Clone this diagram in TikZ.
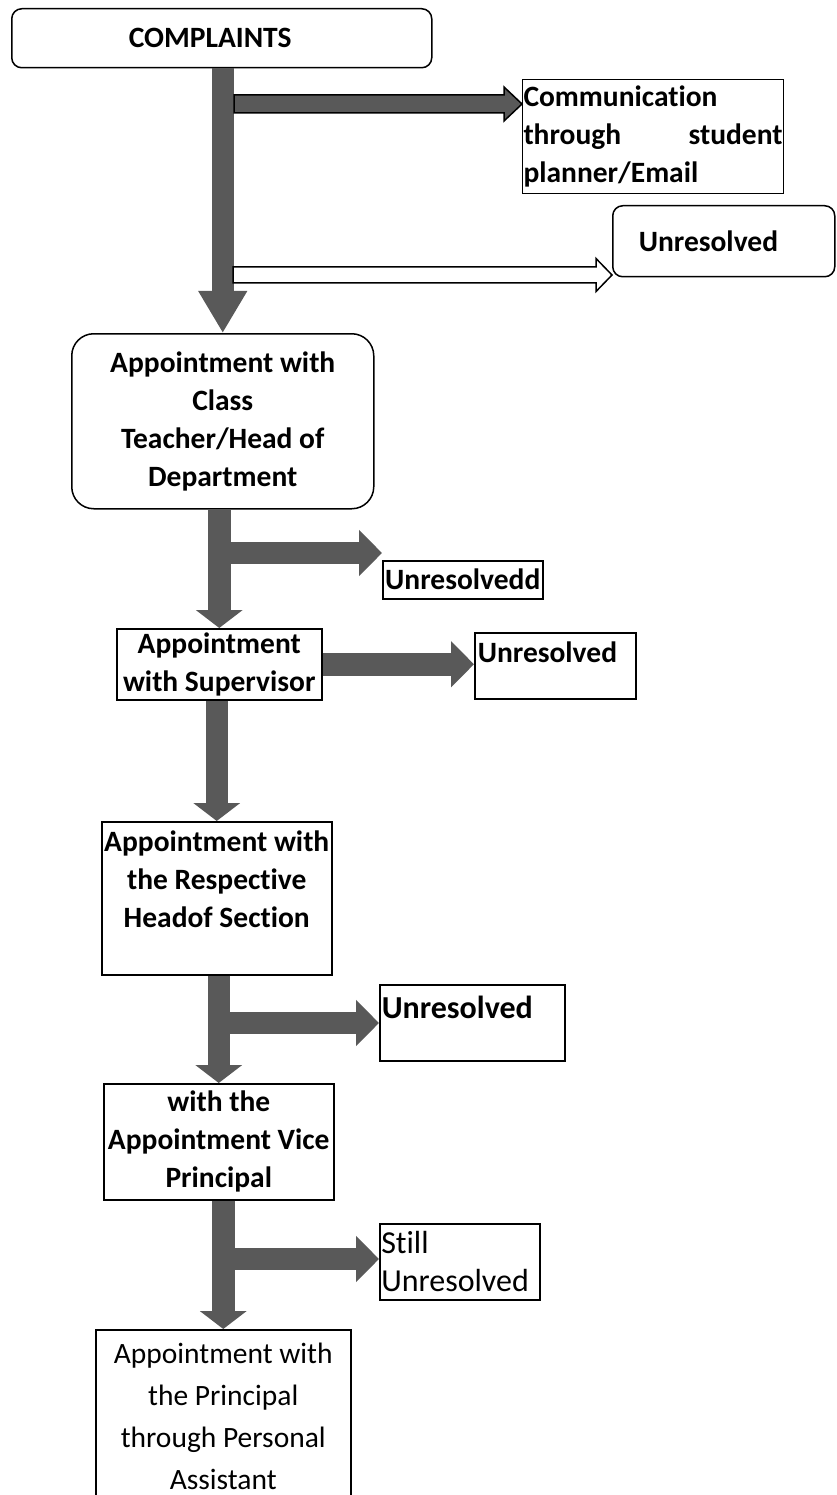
\documentclass[tikz,border=0pt]{standalone}
\usepackage{fontspec}
\setmainfont{Carlito}[Ligatures={NoCommon,NoContextual}]
\usetikzlibrary{arrows.meta,calc}
\definecolor{arrowgray}{RGB}{89,89,89}
\tikzset{
  box/.style={draw, line width=1.5pt, inner sep=0pt, align=center,
              font=\bfseries\fontsize{29.5}{38}\selectfont},
  rbox/.style={box, rounded corners=10pt},
  plainbox/.style={box, font=\fontsize{29.5}{42}\selectfont},
  spine/.style={draw=arrowgray, line width=22.5pt, -{Triangle[length=18pt,width=46pt]}},
  branch/.style={draw=arrowgray, line width=22.5pt, -{Triangle[length=23pt,width=45pt]}}
}

\begin{document}
\begin{tikzpicture}[x=1pt,y=-1pt]
    \useasboundingbox (0,0) rectangle (836,1495);

    \node[rbox, anchor=north west, minimum width=420pt, minimum height=59pt,
          text width=186pt, align=left] (complaints) at (11,8) {COMPLAINTS};
    \node[box, anchor=north west, minimum width=261pt, minimum height=114pt,
          text width=259pt, align=left, line width=1pt] (comm) at (522,79)
          {Communication\\through\hfill student\\planner/Email};
    \node[rbox, anchor=north west, minimum width=222pt, minimum height=71pt,
          text width=170pt, align=left] (unres1) at (612,205) {Unresolved};

    \node[rbox, rounded corners=22pt, anchor=north west, minimum width=302pt,
          minimum height=175pt] (teach) at (71,333)
          {Appointment with\\Class\\Teacher/Head of\\Department};
    \node[box, anchor=north west, minimum width=160pt, minimum height=38pt]
          (unres2) at (382,560) {Unresolvedd};

    \node[box, anchor=north west, minimum width=205pt, minimum height=71pt]
          (super) at (116,628) {Appointment\\with Supervisor};
    \node[box, anchor=north west, minimum width=161pt, text width=155pt, align=left,
          text height=30pt, text depth=36pt] (unres3) at (474,632) {Unresolved};

    \node[box, anchor=north west, minimum width=230pt, minimum height=153pt]
          (section) at (101,821) {Appointment with\\the Respective\\Headof Section\\\mbox{}};
    \node[box, anchor=north west, minimum width=185pt, text width=181pt, align=left,
          text height=34pt, text depth=42pt, font=\bfseries\fontsize{32}{38}\selectfont]
          (unres4) at (379,984) {Unresolved};

    \node[box, anchor=north west, minimum width=230pt, minimum height=116pt]
          (vice) at (103,1083) {with the\\Appointment Vice\\Principal};
    \node[plainbox, anchor=north west, minimum width=160pt, minimum height=76pt,
          text width=157pt, align=left, font=\fontsize{32}{38}\selectfont]
          (still) at (379,1223) {Still\\Unresolved};

    \node[plainbox, anchor=north west, minimum width=255pt, minimum height=173pt]
          (princ) at (95,1329) {Appointment with\\the Principal\\through Personal\\Assistant};

    % the main line down
    \draw[spine, -{Triangle[length=42pt,width=46pt]}] (teach.north |- complaints.south) -- (teach.north);
    \draw[spine] (super.north |- teach.south) -- (super.north);
    \draw[spine] (section.north |- super.south) -- (section.north);
    \draw[spine] (vice.north |- section.south) -- (vice.north);
    \draw[spine] (princ.north |- vice.south) -- (princ.north);

    % outlined arrows off the first line
    \coordinate (fork0) at (234,104);
    \coordinate (tip0) at (fork0 -| comm.west);
    \filldraw[fill=arrowgray, line width=1.5pt]
        ($(fork0)+(0,-9)$) -- ($(tip0)+(-18,-9)$) -- ($(tip0)+(-18,-17)$) -- (tip0)
        -- ($(tip0)+(-18,17)$) -- ($(tip0)+(-18,9)$) -- ($(fork0)+(0,9)$) -- cycle;
    \coordinate (fork1) at (233,275);
    \coordinate (tip1) at (fork1 -| unres1.west);
    \filldraw[fill=white, line width=1.5pt]
        ($(fork1)+(0,-8)$) -- ($(tip1)+(-16,-8)$) -- ($(tip1)+(-16,-16.5)$) -- (tip1)
        -- ($(tip1)+(-16,16.5)$) -- ($(tip1)+(-16,8)$) -- ($(fork1)+(0,8)$) -- cycle;

    % branches
    \coordinate (fork2) at (231,553);
    \draw[branch] (fork2) -- (fork2 -| unres2.west);
    \draw[branch] (super.east) -- (super.east -| unres3.west);
    \coordinate (fork3) at (229,1023);
    \draw[branch] (fork3) -- (fork3 -| unres4.west);
    \coordinate (fork4) at (233,1259);
    \draw[branch] (fork4) -- (fork4 -| still.west);
\end{tikzpicture}
\end{document}
